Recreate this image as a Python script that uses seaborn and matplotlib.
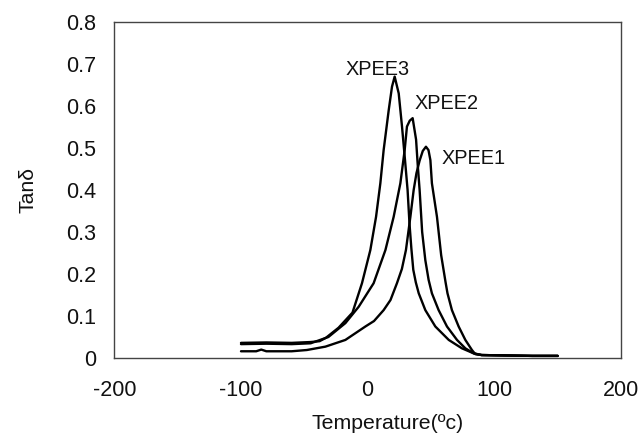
import matplotlib
matplotlib.use("Agg")
import matplotlib.pyplot as plt
import seaborn as sns
import pandas as pd

# ---- data ----
temp_xpee3 = [-100, -80, -60, -45, -38, -33, -23, -12, -4.5, 2.1, 6.6, 10, 12.6, 16.6, 19.2, 21.3,
              24.5, 27.1, 29.5, 31.5, 33, 34.5, 36, 38, 40.3, 45.5, 53.4, 64, 74.4, 83.7, 90,
              110, 130, 150]
tand_xpee3 = [0.036, 0.037, 0.036, 0.038, 0.040, 0.048, 0.072, 0.108, 0.178, 0.257, 0.336, 0.416,
              0.495, 0.59, 0.646, 0.670, 0.63, 0.551, 0.47, 0.40, 0.32, 0.26, 0.21, 0.18, 0.154,
              0.114, 0.075, 0.043, 0.023, 0.011, 0.007, 0.006, 0.005, 0.005]

temp_xpee2 = [-100, -80, -60, -45, -31, -17.6, -7.1, 4.7, 14, 20.5, 25.8, 29.2, 31, 33.2, 35.5,
              38.2, 39.5, 41, 43, 45.5, 48.1, 50.7, 56, 62.6, 70.5, 77.1, 83.7, 90, 110, 130, 150]
tand_xpee2 = [0.033, 0.034, 0.033, 0.035, 0.050, 0.083, 0.122, 0.178, 0.257, 0.336, 0.416, 0.495,
              0.551, 0.565, 0.571, 0.52, 0.46, 0.40, 0.30, 0.233, 0.186, 0.154, 0.114, 0.075,
              0.043, 0.023, 0.011, 0.007, 0.006, 0.005, 0.005]

temp_xpee1 = [-100, -88, -84, -80, -60, -48, -33.4, -17.6, -1.8, 5, 12.6, 18, 23.1, 27, 30.2, 33.7,
              36.3, 38.5, 41, 43.5, 46, 48, 49.5, 50.7, 54.7, 58, 61.5, 63, 66.5, 71.8, 77.1, 82.3,
              85, 90, 110, 130, 150]
tand_xpee1 = [0.016, 0.016, 0.020, 0.016, 0.016, 0.019, 0.027, 0.043, 0.075, 0.088, 0.114, 0.138,
              0.178, 0.212, 0.257, 0.336, 0.40, 0.44, 0.47, 0.493, 0.503, 0.495, 0.471, 0.416,
              0.336, 0.245, 0.18, 0.154, 0.114, 0.075, 0.043, 0.019, 0.009, 0.007, 0.006, 0.005,
              0.005]

series_names = ["XPEE3", "XPEE2", "XPEE1"]
label_x = [7.5, 62.4, 83.7]
label_y = [0.686, 0.607, 0.476]

x_ticks = [-200, -100, 0, 100, 200]
y_ticks = [0, 0.1, 0.2, 0.3, 0.4, 0.5, 0.6, 0.7, 0.8]
y_tick_labels = ["0", "0.1", "0.2", "0.3", "0.4", "0.5", "0.6", "0.7", "0.8"]

# ---- build long table ----
frames = []
for name, t, v in zip(series_names,
                      [temp_xpee3, temp_xpee2, temp_xpee1],
                      [tand_xpee3, tand_xpee2, tand_xpee1]):
    frames.append(pd.DataFrame({"Temperature": t, "Tand": v, "Sample": name}))
df = pd.concat(frames, ignore_index=True)

sns.set_theme(style="white")
plt.rcParams["font.family"] = ["Liberation Sans", "DejaVu Sans"]
plt.rcParams["axes.unicode_minus"] = False

fig = plt.figure(figsize=(6.39, 4.37), dpi=100)
ax = fig.add_axes([0.1789, 0.1808, 0.793, 0.7689])

sns.lineplot(data=df, x="Temperature", y="Tand", hue="Sample", units="Sample",
             estimator=None, sort=False, palette=["black"] * 3, linewidth=1.7,
             legend=False, ax=ax)

for name, lx, ly in zip(series_names, label_x, label_y):
    ax.text(lx, ly, name, ha="center", va="center", fontsize=14.3, color="#111111")

ax.set_xlim(-200, 200)
ax.set_ylim(0, 0.8)
ax.set_xticks(x_ticks)
ax.set_yticks(y_ticks)
ax.set_yticklabels(y_tick_labels)
ax.tick_params(axis="both", which="major", direction="out", length=5, width=1,
               color="#555555", labelsize=15.5, labelcolor="#111111")
ax.tick_params(axis="x", pad=11)
ax.tick_params(axis="y", pad=8)
for sp in ax.spines.values():
    sp.set_visible(True)
    sp.set_color("#444444")
    sp.set_linewidth(1.0)

ax.set_xlabel("Temperature(ºc)", fontsize=15.3, color="#111111")
ax.set_ylabel("Tanδ", fontsize=15.3, color="#111111")
ax.xaxis.set_label_coords(0.54, -0.167)
ax.yaxis.set_label_coords(-0.152, 0.5)

fig.savefig("out.png", dpi=100)
